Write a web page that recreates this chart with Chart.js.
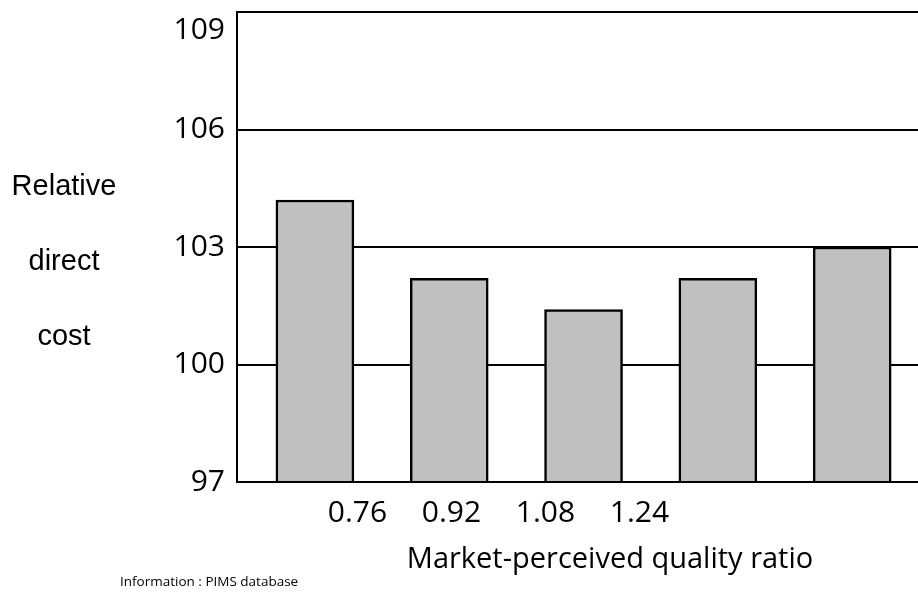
<!DOCTYPE html>
<html>
<head>
<meta charset="utf-8">
<script src="https://cdn.jsdelivr.net/npm/chart.js@4/dist/chart.umd.min.js"></script>
<style>
  html, body { margin: 0; padding: 0; background: #fff; }
  #wrap { width: 918px; height: 592px; position: relative; }
</style>
</head>
<body>
<div id="wrap"><canvas id="c" width="918" height="592"></canvas></div>
<script>
// Quality-ratio bands (one bar each) and their relative direct cost
const categories = ['below 0.76', '0.76–0.92', '0.92–1.08', '1.08–1.24', 'above 1.24'];
const relativeCost = [104.2, 102.2, 101.4, 102.2, 103.0];

// Axis ticks
const costTicks = [97, 100, 103, 106, 109];
const qualityTicks = [0.76, 0.92, 1.08, 1.24];

// Text
const costTitle = ['Relative', 'direct', 'cost'];
const qualityTitle = 'Market-perceived quality ratio';
const sourceNote = 'Information : PIMS database';

const TICK_FONT = { family: '"Open Sans", "Noto Sans", sans-serif', size: 30 };

// Horizontal (unrotated) captions around the plot
const captions = {
  id: 'captions',
  afterDraw(chart) {
    const ctx = chart.ctx;
    ctx.save();
    ctx.fillStyle = '#000';
    ctx.textBaseline = 'alphabetic';

    ctx.font = '29px "Liberation Sans", Arial, sans-serif';
    ctx.textAlign = 'center';
    const baselines = [195, 270, 345];
    costTitle.forEach((line, i) => ctx.fillText(line, 64, baselines[i]));

    ctx.font = '29px "Open Sans", "Noto Sans", sans-serif';
    ctx.textAlign = 'center';
    ctx.fillText(qualityTitle, 610, 568);

    ctx.font = '13.5px "Open Sans", "Noto Sans", sans-serif';
    ctx.textAlign = 'left';
    ctx.fillText(sourceNote, 120, 586);
    ctx.restore();
  }
};

new Chart(document.getElementById('c'), {
  type: 'bar',
  data: {
    datasets: [{
      label: 'Relative direct cost',
      data: categories.map((c, i) => ({ x: i, y: relativeCost[i] })),
      backgroundColor: '#c0c0c0',
      borderColor: '#000',
      borderWidth: 2.5,
      borderSkipped: 'start',
      barThickness: 78,
      xAxisID: 'x',
      yAxisID: 'y'
    }]
  },
  options: {
    responsive: false,
    animation: false,
    devicePixelRatio: 1,
    layout: { padding: { top: 12, right: 0, bottom: 0, left: 0 } },
    plugins: {
      legend: { display: false },
      tooltip: { enabled: false }
    },
    scales: {
      x: {
        type: 'linear',
        display: false,
        offset: false,
        min: -0.58,
        max: 4.49
      },
      xq: {
        type: 'linear',
        position: 'bottom',
        offset: false,
        min: 0.555,
        max: 1.714,
        grid: { display: false, drawTicks: false, offset: false },
        border: { display: true, color: '#000', width: 2, z: 1 },
        afterBuildTicks: (s) => { s.ticks = qualityTicks.map(v => ({ value: v })); },
        ticks: {
          font: TICK_FONT,
          color: '#000',
          padding: 13,
          maxRotation: 0,
          autoSkip: false,
          callback: (v) => Number(v).toFixed(2)
        },
        afterFit: (s) => { s.height = 110; s.paddingLeft = 0; s.paddingRight = 0; }
      },
      y: {
        type: 'linear',
        min: 97,
        max: 109,
        afterBuildTicks: (s) => { s.ticks = costTicks.map(v => ({ value: v })); },
        grid: { color: '#000', lineWidth: 2, drawTicks: false },
        border: { display: true, color: '#000', width: 2 },
        ticks: {
          font: TICK_FONT,
          color: '#000',
          padding: 12,
          // the top label sits just under the frame line
          callback: (v) => v === Math.max(...costTicks) ? ['', String(v)] : String(v)
        },
        afterFit: (s) => { s.width = 237; s.paddingTop = 0; s.paddingBottom = 0; }
      }
    }
  },
  plugins: [captions]
});
</script>
</body>
</html>
